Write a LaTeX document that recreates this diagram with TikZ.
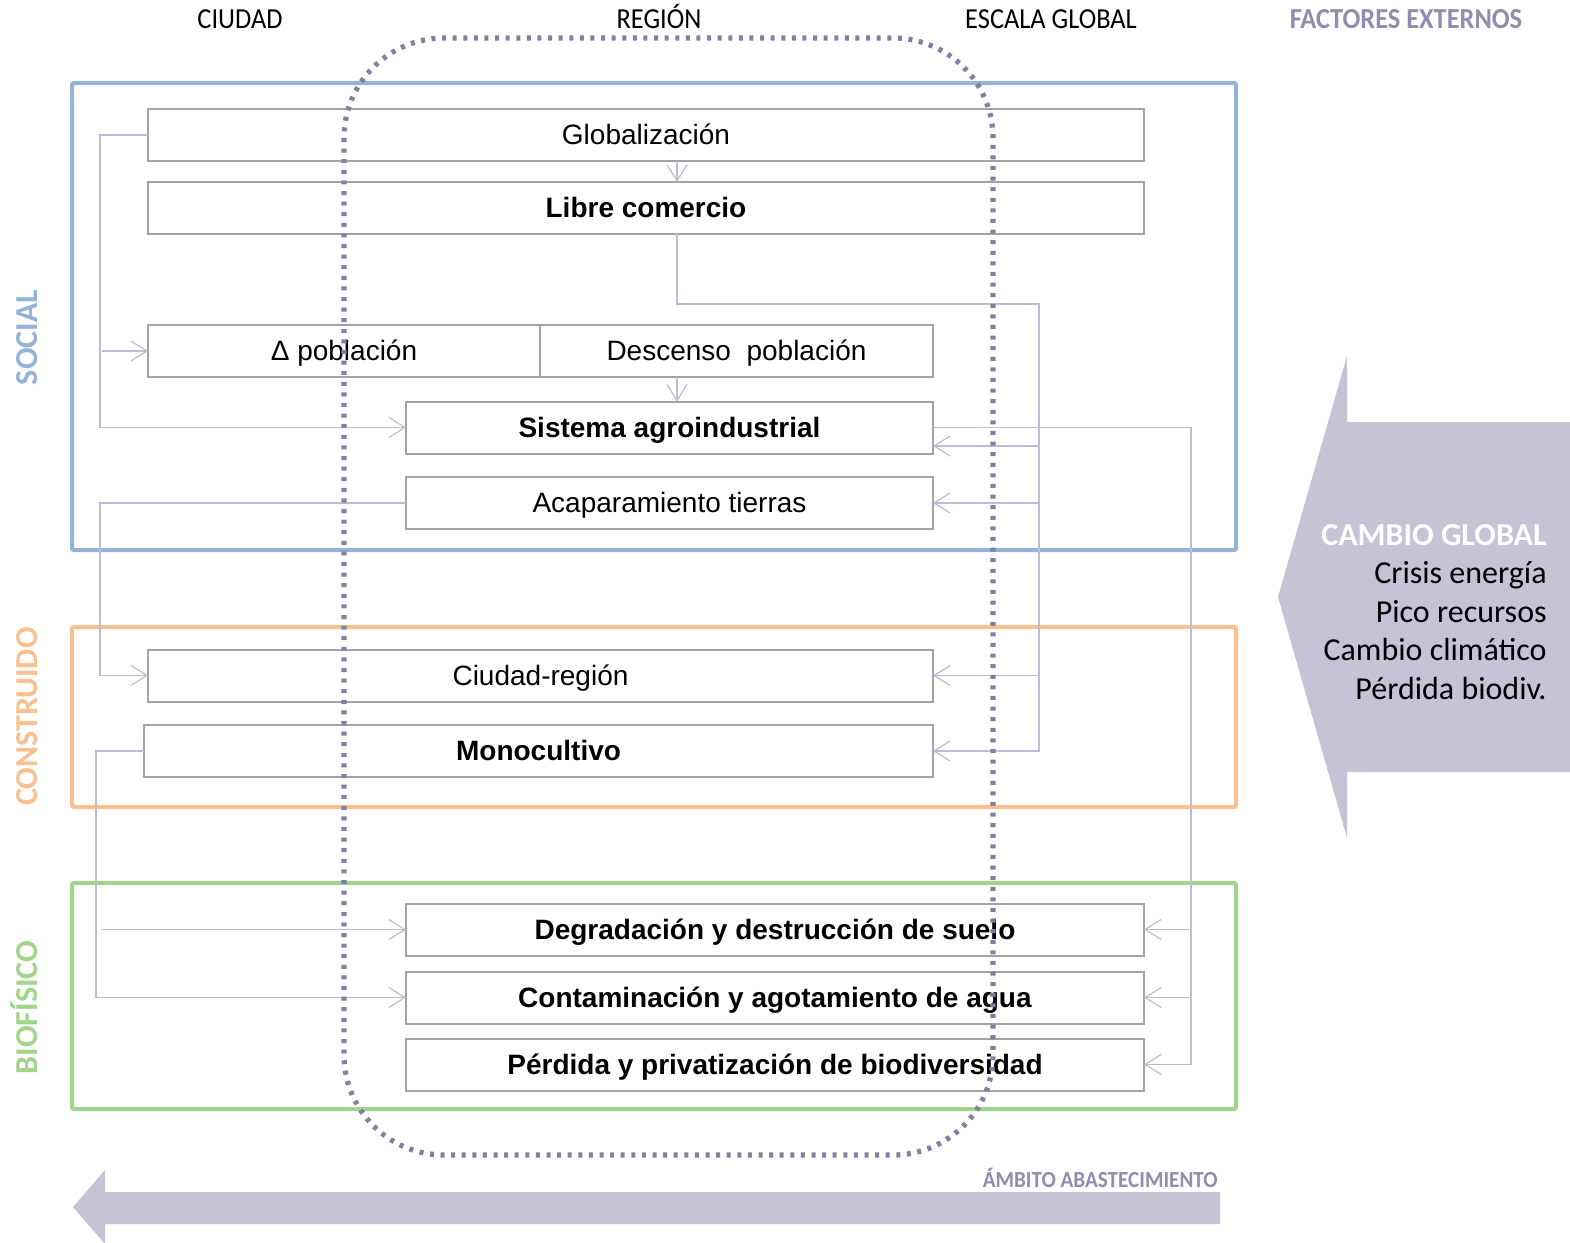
\documentclass[tikz,border=0pt]{standalone}
\usepackage{graphicx}
\usepackage{fontspec}
\setmainfont{Liberation Sans}
\newfontfamily\calib{Carlito}
\usetikzlibrary{arrows.meta}
\definecolor{socialc}{HTML}{95B3D7}
\definecolor{constc}{HTML}{FAC090}
\definecolor{bioc}{HTML}{A3D48B}
\definecolor{regionc}{HTML}{8080A3}
\definecolor{linkc}{HTML}{BCBCD6}
\definecolor{framec}{HTML}{A3A3A3}
\definecolor{flowc}{HTML}{C4C4D6}
\definecolor{extc}{HTML}{8E8EAE}
\newcommand{\narrow}[1]{\scalebox{0.91}[1]{#1}}
\begin{document}
\begin{tikzpicture}[x=0.5pt,y=-0.5pt,
	box/.style={draw=framec,line width=1pt,fill=white,inner sep=0pt,outer sep=0pt,minimum height=26pt,text height=12.67pt,text depth=2.97pt,font=\fontsize{14}{16}\selectfont},
	link/.style={draw=linkc,line width=0.6pt,-{Straight Barb[length=8pt,width=10pt]}},
	zone/.style={line width=2pt,rounded corners=1pt},
	side/.style={rotate=90,anchor=base,font=\calib\bfseries\fontsize{16}{18}\selectfont},
	head/.style={anchor=base,font=\calib\fontsize{14.5}{16}\selectfont}]
		\useasboundingbox (0,0) rectangle (1570,1243);
		\fill[flowc] (1278,597) -- (1347,356) -- (1347,422) -- (1570,422) -- (1570,772) -- (1347,772) -- (1347,838) -- cycle;
		\fill[flowc] (73,1207) -- (105,1170) -- (105,1192) -- (1220,1192) -- (1220,1224) -- (105,1224) -- (105,1244) -- cycle;
		\node[head] (ciudad) at (240,28) {\narrow{CIUDAD}};
		\node[head] (region) at (659,28) {\narrow{REGIÓN}};
		\node[head] (escala) at (1051,28) {\narrow{ESCALA GLOBAL}};
		\node[head,extc,font=\calib\bfseries\fontsize{14.5}{16}\selectfont] (factores) at (1406,28) {\narrow{FACTORES EXTERNOS}};
		\node[anchor=base east,inner sep=0pt,extc,font=\calib\bfseries\fontsize{11.5}{13}\selectfont] (ambito) at (1218,1187) {\scalebox{0.92}[1]{ÁMBITO ABASTECIMIENTO}};
		\node[anchor=east,inner sep=0pt,align=right,font=\calib\fontsize{16}{19.25}\selectfont] (cambio) at (1547,612)
			{{\bfseries\color{white}CAMBIO GLOBAL}\\Crisis energía\\Pico recursos\\Cambio climático\\Pérdida biodiv.};
		\draw[zone,socialc] (72,83) rectangle (1236,550);
		\draw[zone,constc] (72,627) rectangle (1236,807);
		\draw[zone,bioc] (72,883) rectangle (1236,1109);
		\node[side,socialc] (social) at (38,337.5) {SOCIAL};
		\node[side,constc] (construido) at (38,716.5) {CONSTRUIDO};
		\node[side,bioc] (biofisico) at (38,1007.5) {BIOFÍSICO};
		\node[box,minimum width=498pt] (glob) at (646,135) {Globalización};
		\node[box,minimum width=498pt] (lib) at (646,208) {\textbf{Libre comercio}};
		\node[box,minimum width=196pt] (dpob) at (344,351) {Δ población};
		\node[box,minimum width=196.5pt] (desc) at (736.5,351) {Descenso\ \ población};
		\node[box,minimum width=263.5pt] (sis) at (669.5,427.5) {\textbf{Sistema agroindustrial}};
		\node[box,minimum width=263.5pt] (acap) at (669.5,503) {Acaparamiento tierras};
		\node[box,minimum width=392.5pt] (creg) at (540.5,675.5) {Ciudad-región};
		\node[box,minimum width=394.5pt] (mono) at (538.5,751) {\textbf{Monocultivo}};
		\node[box,minimum width=369pt] (suelo) at (775,929.5) {\textbf{Degradación y destrucción de suelo}};
		\node[box,minimum width=369pt] (agua) at (775,997.5) {\textbf{Contaminación y agotamiento de agua}};
		\node[box,minimum width=369pt] (biod) at (775,1064.5) {\textbf{Pérdida y privatización de biodiversidad}};
		\coordinate (xr) at (677,304);
		\coordinate (busl) at (100,0);
		\coordinate (busm) at (96,0);
		\coordinate (busg) at (1039,0);
		\coordinate (busr) at (1191,0);
		\draw[link] (glob.south -| xr) -- (lib.north -| xr);
		\draw[link] (desc.south -| xr) -- (sis.north -| xr);
		\draw[link] (glob.west) -- (glob.west -| busl) -- (busl |- sis.west) -- (sis.west);
		\draw[link] ([xshift=1pt]busl |- dpob.west) -- (dpob.west);
		\draw[link] (lib.south -| xr) -- (xr) -- (xr -| busg) -- (busg |- mono.east) -- (mono.east);
		\draw[link] ([yshift=-9.25pt]busg |- sis.east) -- ([yshift=-9.25pt]sis.east);
		\draw[link] (busg |- acap.east) -- (acap.east);
		\draw[link] (busg |- creg.east) -- (creg.east);
		\draw[link] (sis.east) -- (sis.east -| busr) -- (busr |- biod.east) -- (biod.east);
		\draw[link] ([xshift=-1pt]busr |- suelo.east) -- (suelo.east);
		\draw[link] ([xshift=-1pt]busr |- agua.east) -- (agua.east);
		\draw[link] (acap.west) -- (acap.west -| busl) -- (busl |- creg.west) -- (creg.west);
		\draw[link] (mono.west) -- (mono.west -| busm) -- (busm |- agua.west) -- (agua.west);
		\draw[link] ([xshift=3pt]busm |- suelo.west) -- (suelo.west);
		\draw[regionc,line width=2.6pt,dash pattern=on 2pt off 3.3pt,rounded corners=50pt] (344,38) rectangle (993,1155);
	\end{tikzpicture}
\end{document}
